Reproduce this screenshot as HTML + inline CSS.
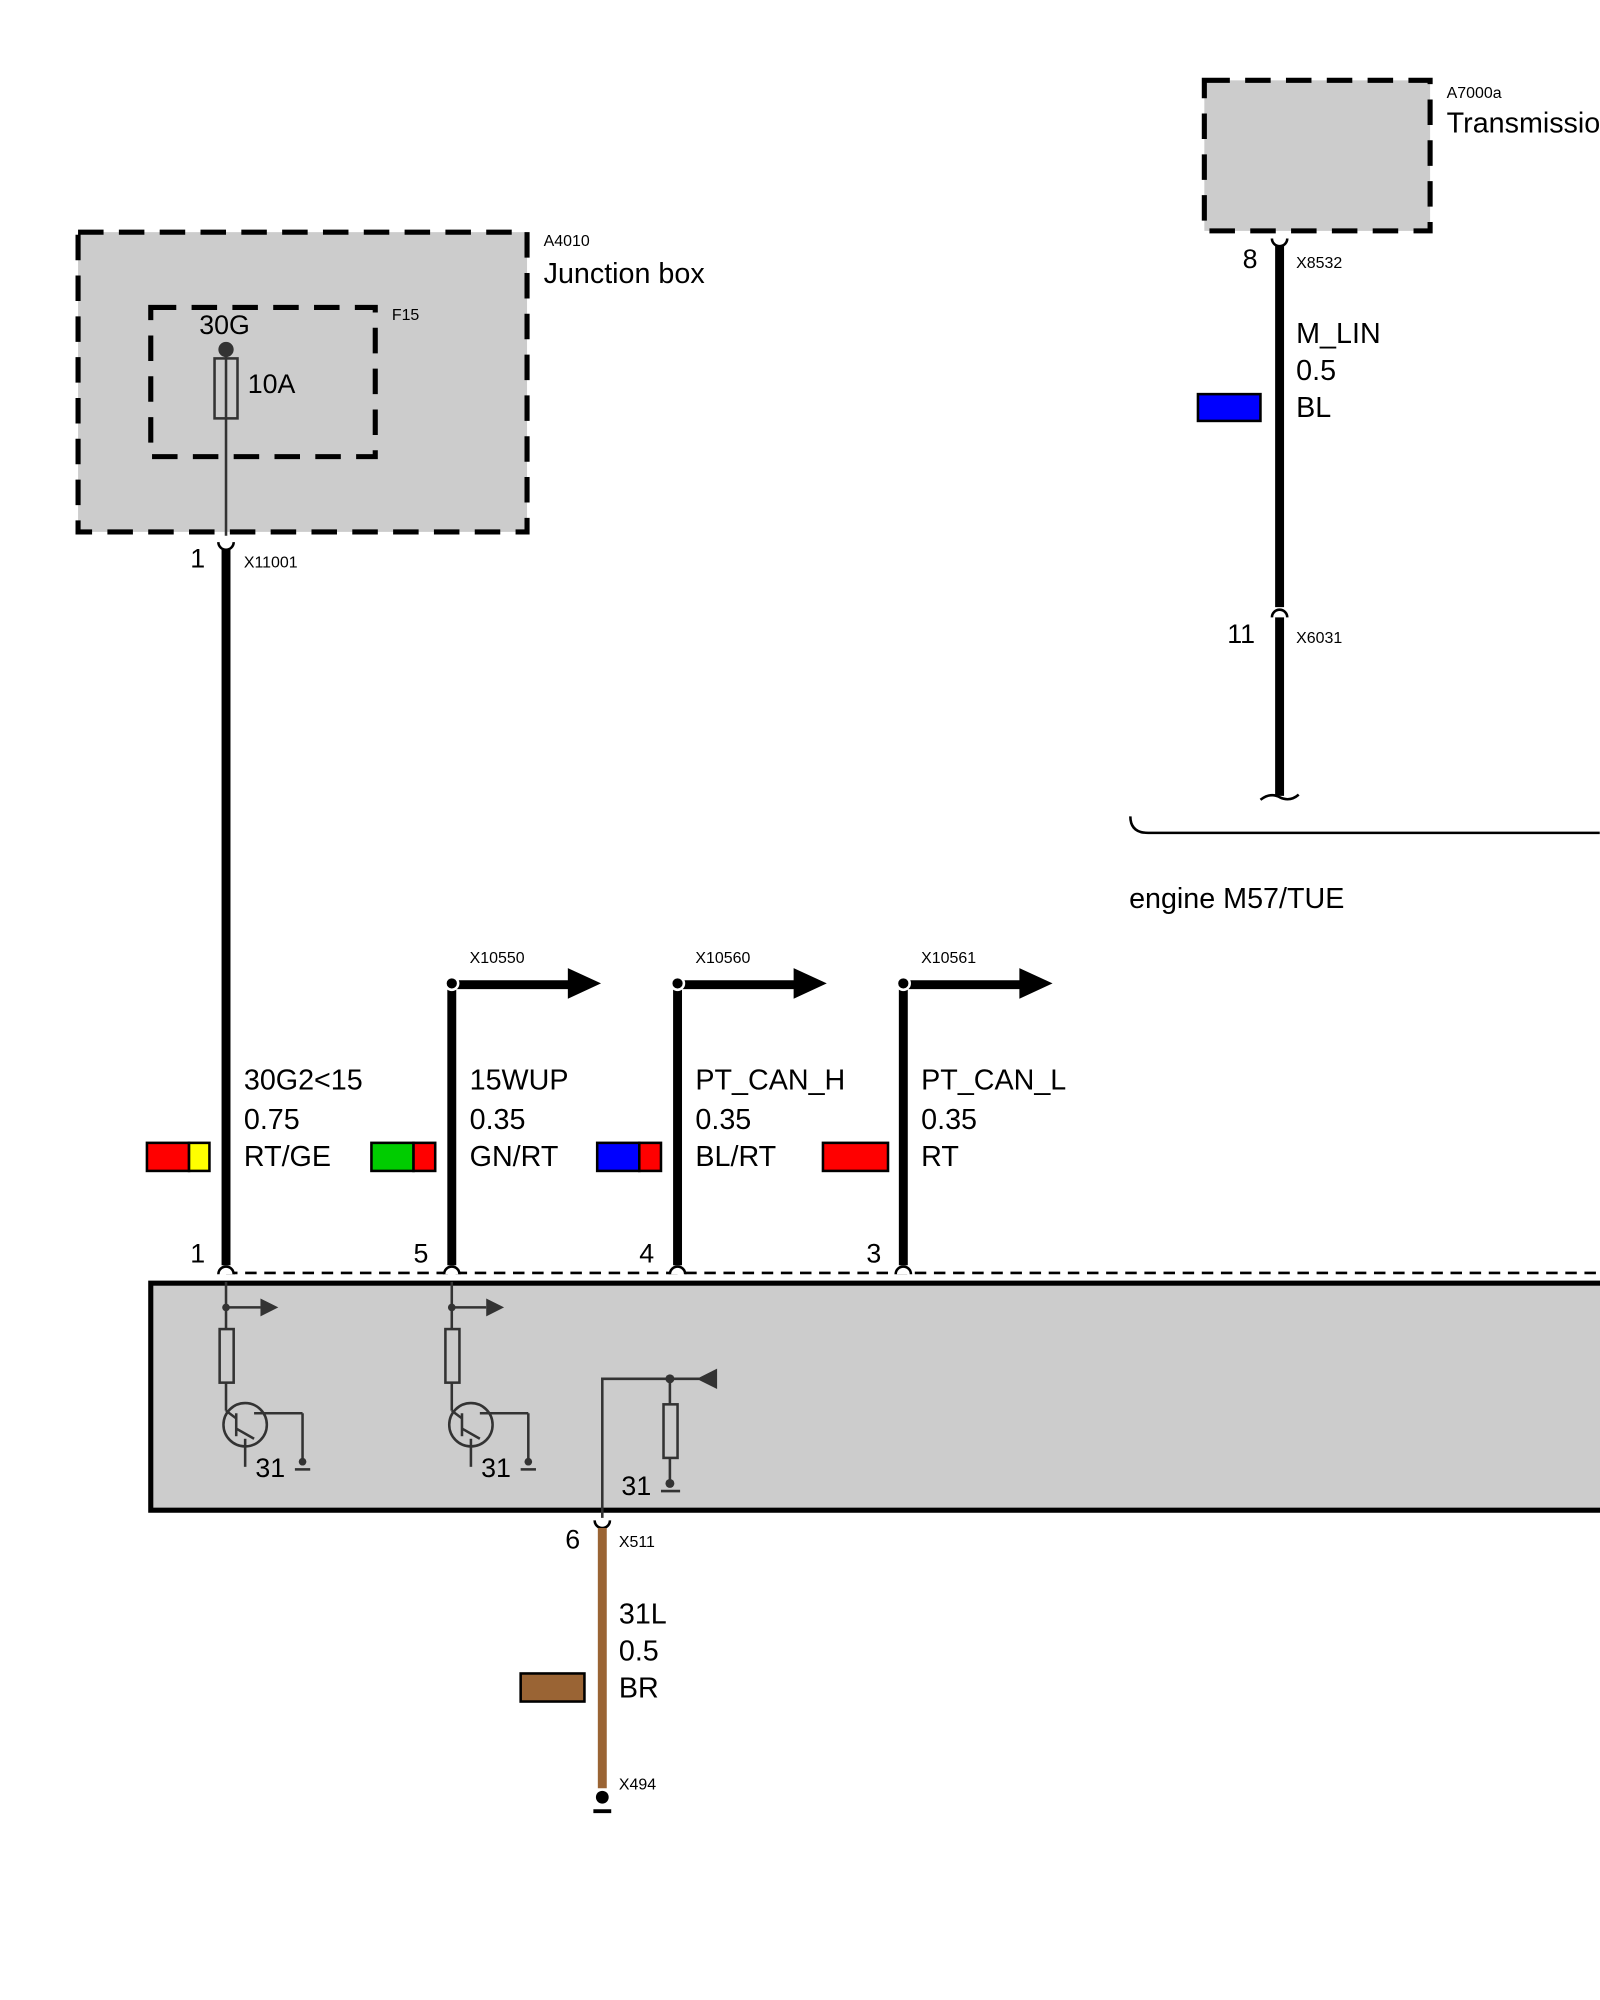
<!DOCTYPE html>
<html><head><meta charset="utf-8"><style>html,body{margin:0;padding:0;background:#fff}svg{display:block}text{font-family:"Liberation Sans",sans-serif;fill:#000}</style></head>
<body>
<svg width="1600" height="2000" viewBox="0 0 1254 1568" xmlns="http://www.w3.org/2000/svg">
<rect width="1254" height="1568" fill="#fff"/>
<rect x="61" y="182" width="352" height="235" fill="#cccccc" stroke="#000" stroke-width="4" stroke-dasharray="20,12"/>
<rect x="118" y="241" width="176" height="117" fill="none" stroke="#000" stroke-width="4" stroke-dasharray="20,12"/>
<text x="426" y="193" font-size="12.5">A4010</text>
<text x="426" y="222" font-size="22.5">Junction box</text>
<text x="307" y="251" font-size="12.5">F15</text>
<text x="156" y="262" font-size="21">30G</text>
<circle cx="177" cy="274" r="6" fill="#333"/>
<rect x="168" y="281" width="18" height="47" fill="none" stroke="#333" stroke-width="2"/>
<line x1="177" y1="274" x2="177" y2="420" stroke="#333" stroke-width="2"/>
<text x="194" y="308" font-size="21">10A</text>
<path d="M171 425 a6 6 0 0 0 12 0" fill="none" stroke="#000" stroke-width="2"/>
<line x1="177" y1="431" x2="177" y2="992" stroke="#000" stroke-width="7"/>
<text x="149" y="445" font-size="21">1</text>
<text x="191" y="445" font-size="12.5">X11001</text>
<rect x="944" y="63" width="177" height="118" fill="#cccccc" stroke="#000" stroke-width="4" stroke-dasharray="20,12"/>
<text x="1134" y="77" font-size="12.5">A7000a</text>
<text x="1134" y="104" font-size="22.5">Transmission</text>
<path d="M997 187 a6 6 0 0 0 12 0" fill="none" stroke="#000" stroke-width="2"/>
<line x1="1003" y1="193" x2="1003" y2="476" stroke="#000" stroke-width="7"/>
<text x="974" y="210" font-size="21">8</text>
<text x="1016" y="210" font-size="12.5">X8532</text>
<text x="1016" y="269" font-size="22.5">M_LIN</text>
<text x="1016" y="298" font-size="22.5">0.5</text>
<text x="1016" y="327" font-size="22.5">BL</text>
<rect x="939" y="309" width="49" height="21" fill="#0000ff" stroke="#000" stroke-width="2"/>
<path d="M997 484 a6 6 0 0 1 12 0" fill="none" stroke="#000" stroke-width="2"/>
<line x1="1003" y1="484" x2="1003" y2="624" stroke="#000" stroke-width="7"/>
<path d="M988 627 q8 -6 15 -2 q8 4 15 -2" fill="none" stroke="#000" stroke-width="2"/>
<text x="962" y="504" font-size="21">11</text>
<text x="1016" y="504" font-size="12.5">X6031</text>
<path d="M886 640 q0 13 14 13 L1254 653" fill="none" stroke="#000" stroke-width="2"/>
<text x="885" y="712" font-size="22.5">engine M57/TUE</text>
<g stroke="#000">
<line x1="354" y1="772" x2="354" y2="992" stroke-width="7"/>
<line x1="531" y1="772" x2="531" y2="992" stroke-width="7"/>
<line x1="708" y1="772" x2="708" y2="992" stroke-width="7"/>
<line x1="354" y1="772" x2="450" y2="772" stroke-width="7"/>
<line x1="531" y1="772" x2="627" y2="772" stroke-width="7"/>
<line x1="708" y1="772" x2="804" y2="772" stroke-width="7"/>
</g>
<polygon points="445,759 471,771 445,783" fill="#000"/>
<polygon points="622,759 648,771 622,783" fill="#000"/>
<polygon points="799,759 825,771 799,783" fill="#000"/>
<g fill="#000" stroke="#fff" stroke-width="2"><circle cx="354" cy="771" r="5"/><circle cx="531" cy="771" r="5"/><circle cx="708" cy="771" r="5"/></g>
<text x="368" y="755" font-size="12.5">X10550</text>
<text x="545" y="755" font-size="12.5">X10560</text>
<text x="722" y="755" font-size="12.5">X10561</text>
<g font-size="22.5">
<text x="191" y="854">30G2&lt;15</text><text x="191" y="885">0.75</text><text x="191" y="914">RT/GE</text>
<text x="368" y="854">15WUP</text><text x="368" y="885">0.35</text><text x="368" y="914">GN/RT</text>
<text x="545" y="854">PT_CAN_H</text><text x="545" y="885">0.35</text><text x="545" y="914">BL/RT</text>
<text x="722" y="854">PT_CAN_L</text><text x="722" y="885">0.35</text><text x="722" y="914">RT</text>
</g>
<g stroke="#000" stroke-width="2">
<rect x="115" y="896" width="33" height="22" fill="#ff0000"/><rect x="148" y="896" width="16" height="22" fill="#ffff00"/>
<rect x="291" y="896" width="33" height="22" fill="#00cc00"/><rect x="324" y="896" width="17" height="22" fill="#ff0000"/>
<rect x="468" y="896" width="33" height="22" fill="#0000ff"/><rect x="501" y="896" width="17" height="22" fill="#ff0000"/>
<rect x="645" y="896" width="51" height="22" fill="#ff0000"/>
</g>
<rect x="118" y="1006" width="1140" height="178" fill="#cccccc" stroke="#000" stroke-width="4"/>
<line x1="177" y1="998" x2="1254" y2="998" stroke="#000" stroke-width="2" stroke-dasharray="9,6"/>
<g font-size="21"><text x="149" y="990">1</text><text x="324" y="990">5</text><text x="501" y="990">4</text><text x="679" y="990">3</text></g>
<g fill="#fff" stroke="#000" stroke-width="2">
<path d="M171 999 a6 6 0 0 1 12 0"/><path d="M348 999 a6 6 0 0 1 12 0"/><path d="M525 999 a6 6 0 0 1 12 0"/><path d="M702 999 a6 6 0 0 1 12 0"/>
</g>
<g stroke="#333" stroke-width="2" fill="none">
<line x1="177" y1="1005" x2="177" y2="1042"/><line x1="177" y1="1025" x2="204" y2="1025"/>
<rect x="172" y="1042" width="11" height="42"/><line x1="177" y1="1084" x2="177" y2="1106"/>
<circle cx="192" cy="1117" r="17"/><line x1="185" y1="1108" x2="185" y2="1126"/>
<line x1="177" y1="1106" x2="185" y2="1112"/><line x1="185" y1="1120" x2="199" y2="1128"/>
<line x1="199" y1="1108" x2="237" y2="1108"/><line x1="237" y1="1108" x2="237" y2="1146"/><line x1="231" y1="1152" x2="243" y2="1152"/>
<line x1="192" y1="1128" x2="192" y2="1150"/>
<line x1="354" y1="1005" x2="354" y2="1042"/><line x1="354" y1="1025" x2="381" y2="1025"/>
<rect x="349" y="1042" width="11" height="42"/><line x1="354" y1="1084" x2="354" y2="1106"/>
<circle cx="369" cy="1117" r="17"/><line x1="362" y1="1108" x2="362" y2="1126"/>
<line x1="354" y1="1106" x2="362" y2="1112"/><line x1="362" y1="1120" x2="376" y2="1128"/>
<line x1="376" y1="1108" x2="414" y2="1108"/><line x1="414" y1="1108" x2="414" y2="1146"/><line x1="408" y1="1152" x2="420" y2="1152"/>
<line x1="369" y1="1128" x2="369" y2="1150"/>
<polyline points="472,1190 472,1081 548,1081"/>
<line x1="525" y1="1081" x2="525" y2="1101"/><rect x="520" y="1101" width="11" height="42"/><line x1="525" y1="1143" x2="525" y2="1163"/><line x1="518" y1="1169" x2="533" y2="1169"/>
</g>
<g fill="#333">
<polygon points="204,1018 218,1025 204,1032"/><polygon points="381,1018 395,1025 381,1032"/>
<polygon points="562,1073 562,1089 546,1081"/>
<circle cx="177" cy="1025" r="3"/><circle cx="354" cy="1025" r="3"/><circle cx="525" cy="1081" r="3.5"/>
<circle cx="237" cy="1146" r="3"/><circle cx="414" cy="1146" r="3"/><circle cx="525" cy="1163" r="3.5"/>
</g>
<g font-size="21"><text x="200" y="1158">31</text><text x="377" y="1158">31</text><text x="487" y="1172">31</text></g>
<path d="M466 1192 a6 6 0 0 0 12 0" fill="none" stroke="#000" stroke-width="2"/>
<line x1="472" y1="1198" x2="472" y2="1402" stroke="#9a6434" stroke-width="7"/>
<text x="443" y="1214" font-size="21">6</text>
<text x="485" y="1213" font-size="12.5">X511</text>
<text x="485" y="1273" font-size="22.5">31L</text><text x="485" y="1302" font-size="22.5">0.5</text><text x="485" y="1331" font-size="22.5">BR</text>
<rect x="408" y="1312" width="50" height="22" fill="#9a6434" stroke="#000" stroke-width="2"/>
<circle cx="472" cy="1409" r="5" fill="#000"/>
<line x1="465" y1="1420" x2="479" y2="1420" stroke="#000" stroke-width="3"/>
<text x="485" y="1403" font-size="12.5">X494</text>
</svg>
</body></html>
